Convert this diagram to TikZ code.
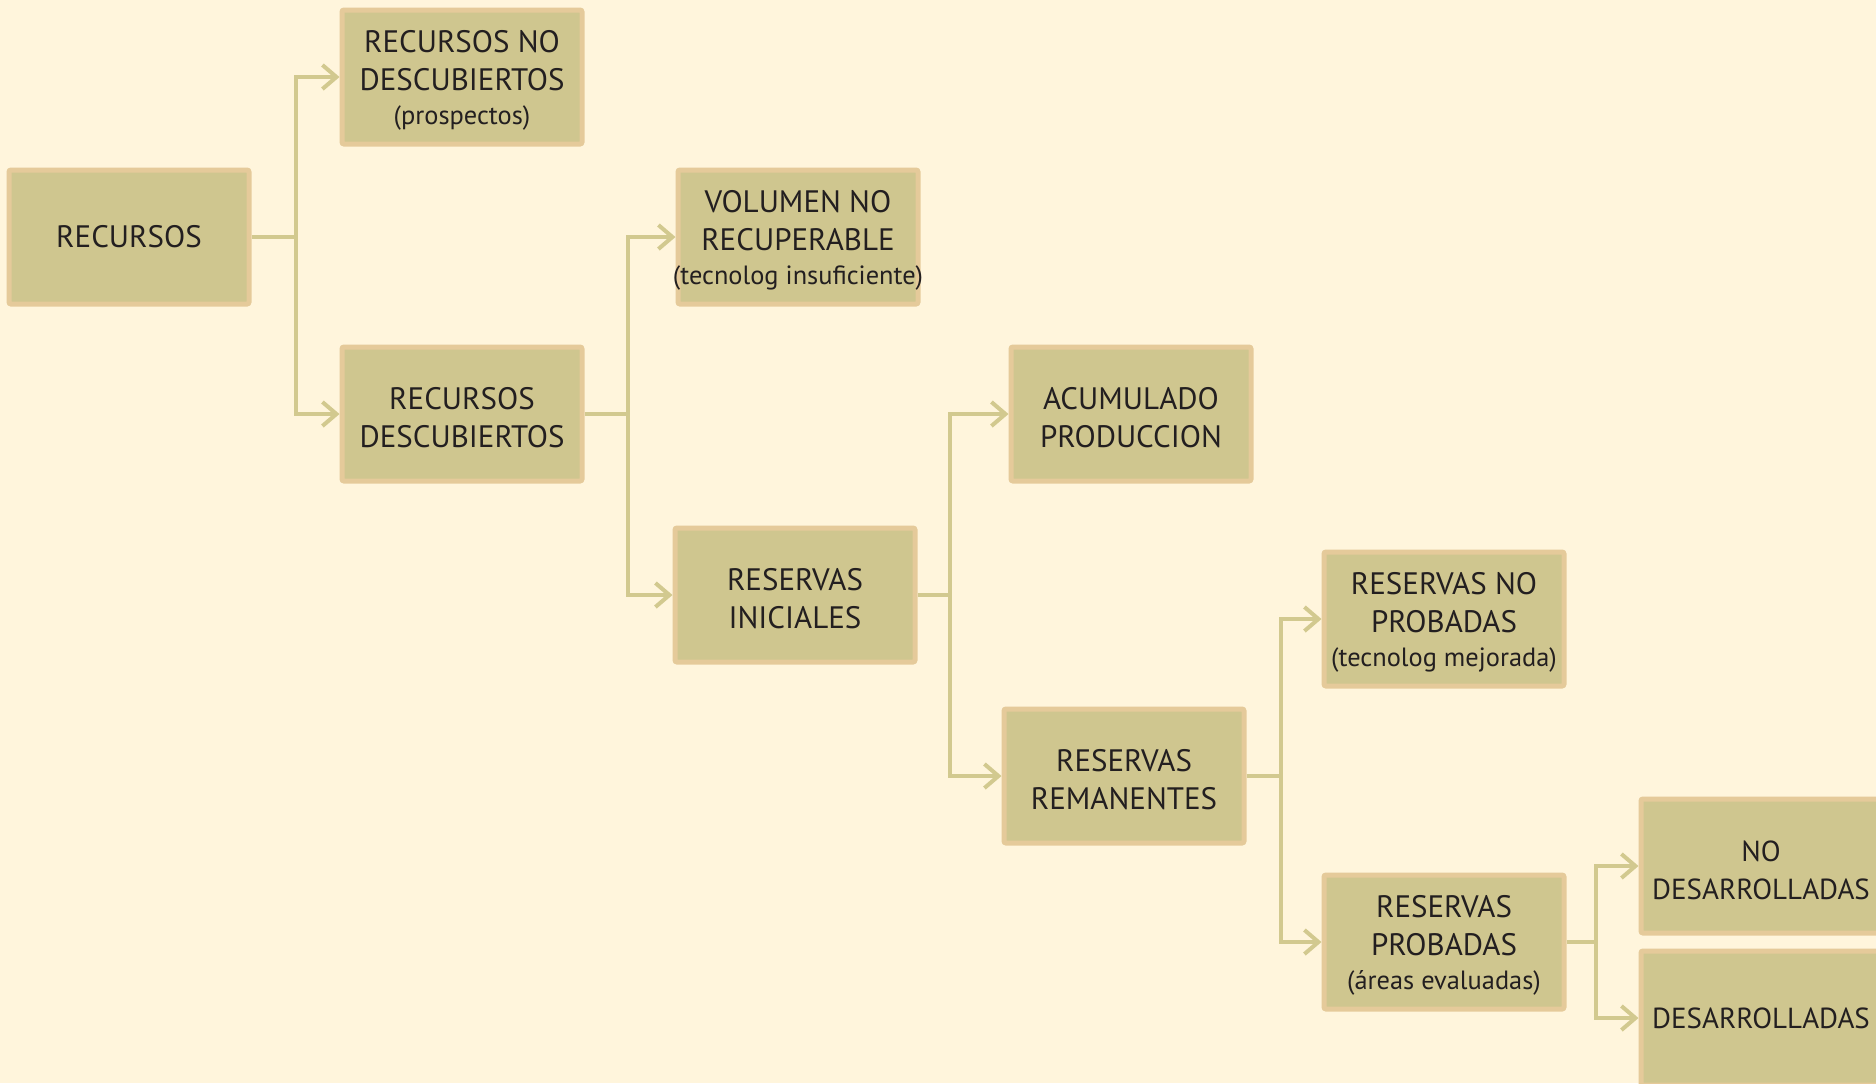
\documentclass[tikz,border=0pt]{standalone}
\usepackage{fontspec}
\setmainfont{PT Sans}
\usetikzlibrary{arrows.meta}
\definecolor{bgc}{HTML}{FFF5DC}
\definecolor{boxfill}{HTML}{CFC68F}
\definecolor{boxedge}{HTML}{E5CA9A}
\definecolor{linec}{HTML}{D2C98F}
\definecolor{txt}{HTML}{231F20}
\tikzset{
  box/.style={draw=boxedge, fill=boxfill, line width=2.5pt, rounded corners=1pt,
    minimum width=120pt, minimum height=67pt, inner sep=0pt, align=center,
    text=txt, font=\fontsize{15.5}{19}\selectfont},
  conn/.style={draw=linec, line width=2pt},
  arr/.style={conn, -{Straight Barb[length=7pt,width=12pt,line width=2pt]}},
}
\newcommand{\subt}[1]{\\[-2pt]\makebox[100pt]{\fontsize{13.2}{17}\selectfont #1}}
\newcommand{\tla}{\rule{0pt}{14pt}}
\newcommand{\tlb}{\rule{0pt}{14.6pt}}
\begin{document}
\begin{tikzpicture}[x=0.5pt,y=-0.5pt]
\useasboundingbox (0,0) rectangle (1876,1083);
\fill[bgc] (0,0) rectangle (1876,1083);
\clip (0,0) rectangle (1876,1083);
\node[box] (rec) at (129,237) {RECURSOS};
\node[box] (rnd) at (462,77) {\tla RECURSOS NO\\DESCUBIERTOS\subt{(prospectos)}};
\node[box] (rd) at (462,414) {\tlb RECURSOS\\DESCUBIERTOS};
\node[box] (vol) at (798,237) {\tla VOLUMEN NO\\RECUPERABLE\subt{(tecnolog insuficiente)}};
\node[box] (ri) at (795,595) {\tlb RESERVAS\\INICIALES};
\node[box] (acu) at (1131,414) {\tlb ACUMULADO\\PRODUCCION};
\node[box] (rem) at (1124,776) {\tlb RESERVAS\\REMANENTES};
\node[box] (rnp) at (1444,619) {\tla RESERVAS NO\\PROBADAS\subt{(tecnolog mejorada)}};
\node[box] (rp) at (1444,942) {\tla RESERVAS\\PROBADAS\subt{(áreas evaluadas)}};
\node[box, font=\fontsize{14.5}{19}\selectfont] (nod) at (1761,866) {\tlb NO\\DESARROLLADAS};
\node[box, font=\fontsize{14.5}{19}\selectfont] (des) at (1761,1018) {DESARROLLADAS};
\coordinate (j1) at (296,237);
\coordinate (j2) at (628,414);
\coordinate (j3) at (950,595);
\coordinate (j4) at (1281,776);
\coordinate (j5) at (1596,942);
\draw[conn] (rec.east) -- (j1);
\draw[arr] (j1) |- (rnd.west);
\draw[arr] (j1) |- (rd.west);
\draw[conn] (rd.east) -- (j2);
\draw[arr] (j2) |- (vol.west);
\draw[arr] (j2) |- (ri.west);
\draw[conn] (ri.east) -- (j3);
\draw[arr] (j3) |- (acu.west);
\draw[arr] (j3) |- (rem.west);
\draw[conn] (rem.east) -- (j4);
\draw[arr] (j4) |- (rnp.west);
\draw[arr] (j4) |- (rp.west);
\draw[conn] (rp.east) -- (j5);
\draw[arr] (j5) |- (nod.west);
\draw[arr] (j5) |- (des.west);
\end{tikzpicture}
\end{document}
